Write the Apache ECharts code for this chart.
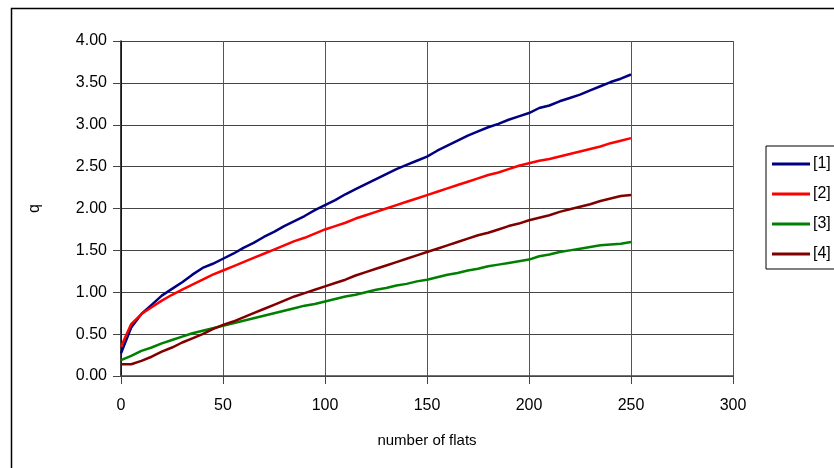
<!DOCTYPE html>
<html><head><meta charset="utf-8">
<script src="https://cdn.jsdelivr.net/npm/echarts@6/dist/echarts.min.js"></script>
<style>html,body{margin:0;padding:0;background:#fff}#c{width:834px;height:468px}</style>
</head><body><div id="c"></div>
<script>
var xs = [0,5,10,15,20,25,30,35,40,45,50,55,60,65,70,75,80,85,90,95,100,105,110,115,120,125,130,135,140,145,150,155,160,165,170,175,180,185,190,195,200,205,210,215,220,225,230,235,240,245,250];
var s1 = [0.27,0.58,0.74,0.85,0.96,1.04,1.12,1.21,1.29,1.34,1.40,1.46,1.53,1.59,1.66,1.72,1.79,1.85,1.91,1.98,2.04,2.10,2.17,2.23,2.29,2.35,2.41,2.47,2.52,2.57,2.62,2.69,2.75,2.81,2.87,2.92,2.97,3.01,3.06,3.10,3.14,3.20,3.23,3.28,3.32,3.36,3.41,3.46,3.51,3.55,3.60];
var s2 = [0.35,0.62,0.74,0.82,0.90,0.97,1.03,1.09,1.15,1.21,1.26,1.31,1.36,1.41,1.46,1.51,1.56,1.61,1.65,1.70,1.75,1.79,1.83,1.88,1.92,1.96,2.00,2.04,2.08,2.12,2.16,2.20,2.24,2.28,2.32,2.36,2.40,2.43,2.47,2.51,2.54,2.57,2.59,2.62,2.65,2.68,2.71,2.74,2.78,2.81,2.84];
var s3 = [0.19,0.24,0.30,0.34,0.39,0.43,0.47,0.51,0.54,0.57,0.60,0.63,0.66,0.69,0.72,0.75,0.78,0.81,0.84,0.86,0.89,0.92,0.95,0.97,1.00,1.03,1.05,1.08,1.10,1.13,1.15,1.18,1.21,1.23,1.26,1.28,1.31,1.33,1.35,1.37,1.39,1.43,1.45,1.48,1.50,1.52,1.54,1.56,1.57,1.58,1.60];
var s4 = [0.14,0.14,0.18,0.23,0.29,0.34,0.40,0.45,0.50,0.56,0.61,0.65,0.70,0.75,0.80,0.85,0.90,0.95,0.99,1.03,1.07,1.11,1.15,1.20,1.24,1.28,1.32,1.36,1.40,1.44,1.48,1.52,1.56,1.60,1.64,1.68,1.71,1.75,1.79,1.82,1.86,1.89,1.92,1.96,1.99,2.02,2.05,2.09,2.12,2.15,2.16];
var names = ['[1]','[2]','[3]','[4]'];
var colors = ['#000080','#ff0000','#008000','#800000'];
var xTitle = 'number of flats';
var yTitle = 'q';

function pairs(v){ return xs.map(function(x,i){ return [x, v[i]]; }); }
var all = [s1,s2,s3,s4];
var font = 'Liberation Sans, Arial, sans-serif';
var chart = echarts.init(document.getElementById('c'));
chart.setOption({
  animation:false,
  textStyle:{fontFamily:font},
  graphic:[{type:'rect', shape:{x:11.5,y:8.5,width:900,height:600}, style:{fill:'none', stroke:'#000', lineWidth:1.5}, z:-1}],
  grid:{left:121, top:41, width:612, height:335},
  legend:{
    left:766, top:146, orient:'vertical', itemGap:14, itemWidth:38, itemHeight:18,
    padding:[10,30,7,6], borderColor:'#000', borderWidth:1,
    textStyle:{fontFamily:font, fontSize:16, color:'#000', padding:[0,0,0,-2]},
    data: names.map(function(n){ return {name:n, icon:'path://M0,0 L38,0 L38,3 L0,3 Z'}; })
  },
  xAxis:{type:'value', min:0, max:300, interval:50,
    name:xTitle, nameLocation:'middle', nameGap:57,
    nameTextStyle:{fontFamily:font, fontSize:15, color:'#000'},
    axisLine:{show:true, lineStyle:{color:'#444', width:1.5}},
    axisTick:{show:true, length:8, inside:false, lineStyle:{color:'#444'}},
    axisLabel:{fontFamily:font, fontSize:16, color:'#000', margin:22},
    splitLine:{show:true, lineStyle:{color:'#555', width:1}}},
  yAxis:{type:'value', min:0, max:4, interval:0.5,
    name:yTitle, nameLocation:'middle', nameGap:78, nameRotate:90,
    nameTextStyle:{fontFamily:font, fontSize:16, color:'#000'},
    axisLine:{show:true, lineStyle:{color:'#000', width:1.5}},
    axisTick:{show:true, length:8, lineStyle:{color:'#444'}},
    axisLabel:{fontFamily:font, fontSize:16, color:'#000', margin:14, formatter:function(v){return v.toFixed(2);}},
    splitLine:{show:true, lineStyle:{color:'#444', width:1}}},
  series: all.map(function(v,i){ return {
    name:names[i], type:'line', data:pairs(v), showSymbol:false, symbol:'none',
    lineStyle:{color:colors[i], width:2.5}, itemStyle:{color:colors[i]}, z:3+i
  };})
});
</script></body></html>
